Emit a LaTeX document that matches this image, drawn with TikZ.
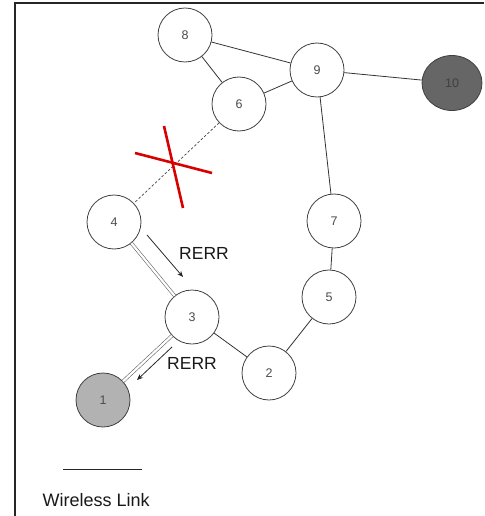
\documentclass[tikz,border=0pt]{standalone}
\usepackage{fontspec}
\setmainfont{Liberation Sans}
\usetikzlibrary{arrows.meta,shapes.geometric}
\begin{document}
\begin{tikzpicture}[x=1pt,y=-1pt,
  station/.style={circle,draw=black!75,line width=0.8pt,fill=white,minimum size=54pt,inner sep=0pt,
    font=\fontsize{12.5}{12.5}\selectfont,text=black!70},
  endpt/.style={station,fill=black!30},
  link/.style={draw=black!80,line width=0.8pt},
  dlink/.style={draw=black!60,line width=0.6pt,double=white,double distance=2.2pt},
  brokenlink/.style={draw=black!75,line width=0.7pt,dash pattern=on 2.5pt off 2pt},
  rerr/.style={draw=black!85,line width=0.8pt,-{Stealth[length=6pt,width=5pt]}},
  cross/.style={draw=red!85!black,line width=2.6pt},
  lbl/.style={font=\fontsize{17.5}{18}\selectfont,text=black!90}]
\useasboundingbox (0,0) rectangle (484,516);
% frame edges
\draw[line width=1.3pt,black!85] (15,516) -- (15,3) -- (484,3);

% stations
\node[station] (n8) at (185,35) {8};
\node[station] (n9) at (317,70) {9};
\node[ellipse,draw=black!75,line width=0.8pt,fill=black!60,minimum width=60pt,minimum height=55pt,inner sep=0pt,
  font=\fontsize{12.5}{12.5}\selectfont,text=black!75] (n10) at (452,83) {10};
\node[station] (n6) at (239,104) {6};
\node[station] (n4) at (114,222) {4};
\node[station] (n7) at (334,221) {7};
\node[station] (n5) at (329,297) {5};
\node[station] (n3) at (192,317) {3};
\node[station] (n2) at (269,373) {2};
\node[endpt] (n1) at (103,400) {1};

% links
\draw[link] (n8) -- (n9);
\draw[link] (n8) -- (n6);
\draw[link] (n6) -- (n9);
\draw[link] (n9) -- (n10);
\draw[link] (n9) -- (n7);
\draw[link] (n7) -- (n5);
\draw[link] (n5) -- (n2);
\draw[link] (n2) -- (n3);
\draw[dlink] (n4) -- (n3);
\draw[dlink] (n3) -- (n1);
\draw[brokenlink] (n6) -- (n4);

% broken link marker
\coordinate (xa) at (135,153);
\coordinate (xb) at (212,173);
\coordinate (xc) at (164,126);
\coordinate (xd) at (183,208);
\draw[cross] (xa) -- (xb);
\draw[cross] (xc) -- (xd);

% route error messages
\coordinate (r1s) at (147,235);
\coordinate (r1e) at (183,277);
\coordinate (r2s) at (172,347);
\coordinate (r2e) at (137,380);
\draw[rerr] (r1s) -- (r1e);
\draw[rerr] (r2s) -- (r2e);
\node[lbl] (t1) at (204,253) {RERR};
\node[lbl] (t2) at (192,363) {RERR};

% legend
\coordinate (la) at (63,469);
\coordinate (lb) at (142,469);
\draw[link,black!85] (la) -- (lb);
\node[lbl,anchor=west,font=\fontsize{18}{18}\selectfont] (lt) at (39,500) {Wireless Link};
\end{tikzpicture}
\end{document}
